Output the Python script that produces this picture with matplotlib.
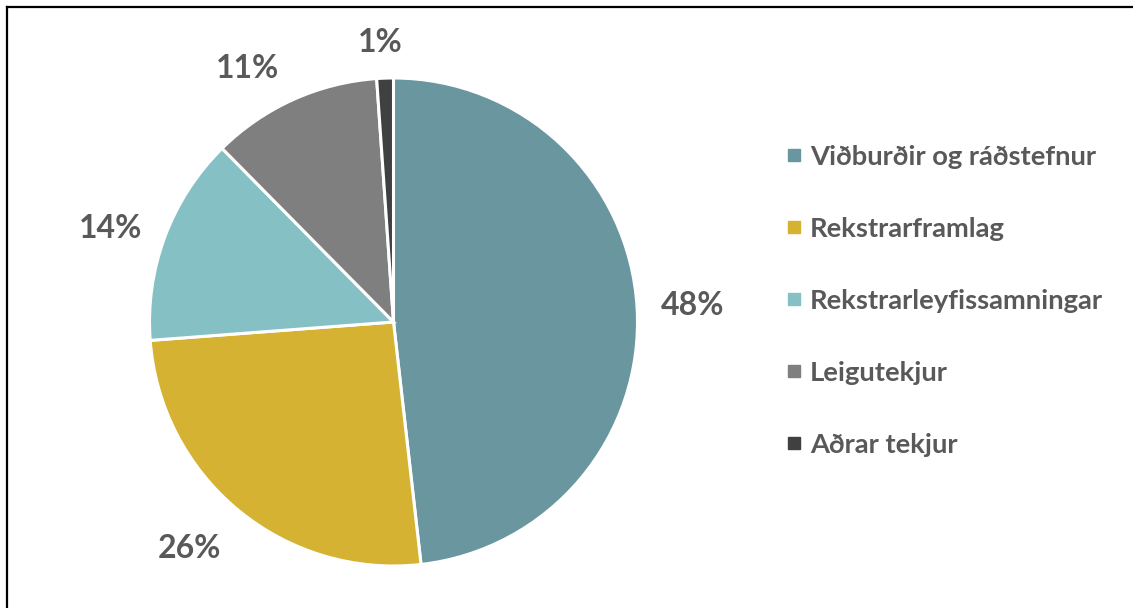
import matplotlib
matplotlib.use("Agg")
import numpy as np
import matplotlib.pyplot as plt
from matplotlib.lines import Line2D

plt.rcParams["font.family"] = ["Lato", "DejaVu Sans"]

# gögn
flokkar = ["Viðburðir og ráðstefnur", "Rekstrarframlag", "Rekstrarleyfissamningar",
           "Leigutekjur", "Aðrar tekjur"]
hlutfall = [48.2, 25.6, 13.8, 11.3, 1.1]
litir = ["#6A96A0", "#D5B232", "#85C1C4", "#7F7F7F", "#404040"]
texta_litur = "#595959"

# staðsetning prósentumerkja (fjarlægð frá miðju, hliðrun horns í gráðum)
merki_r = [1.23, 1.25, 1.22, 1.20, 1.145]
merki_hlidrun = [0, -2.4, 2.2, 5.6, 0.8]

W, H = 1133, 608
fig = plt.figure(figsize=(W / 100, H / 100), dpi=100)

# kökurit: miðja (393.5, 322) px, radíus 244 px
cx, cy, r = 393.5, 322, 244
ax = fig.add_axes([(cx - r) / W, (H - cy - r) / H, 2 * r / W, 2 * r / H])
wedges, _, pct = ax.pie(hlutfall, colors=litir, startangle=90, counterclock=False,
                        autopct=lambda p: f"{p:.0f}%", pctdistance=1.22,
                        wedgeprops=dict(edgecolor="white", linewidth=2.2),
                        textprops=dict(fontsize=23, fontweight="bold", color=texta_litur))
for w, t, rr, dh in zip(wedges, pct, merki_r, merki_hlidrun):
    mid = np.deg2rad((w.theta1 + w.theta2) / 2 + dh)
    t.set_position((rr * np.cos(mid), rr * np.sin(mid)))
ax.set_xlim(-1, 1)
ax.set_ylim(-1, 1)
ax.set_aspect("equal")
ax.axis("off")

# skýringar
handles = [Line2D([], [], marker="s", linestyle="none", markersize=8.6,
                  markerfacecolor=c, markeredgecolor=c) for c in litir]
leg = fig.legend(handles, flokkar, loc="upper left",
                 bbox_to_anchor=(787 / W, 1 - 145 / H), frameon=False,
                 prop=dict(size=19.7, weight="bold"), labelspacing=1.75,
                 handlelength=0.5, handletextpad=0.34, borderaxespad=0, borderpad=0)
for t in leg.get_texts():
    t.set_color(texta_litur)

# rammi
fig.add_artist(Line2D([7 / W, 7 / W], [0, 1 - 7 / H], color="black", linewidth=1.6,
                      transform=fig.transFigure))
fig.add_artist(Line2D([7 / W, 1], [1 - 7 / H, 1 - 7 / H], color="black", linewidth=1.6,
                      transform=fig.transFigure))

fig.savefig("out.png", dpi=100, facecolor="white")
